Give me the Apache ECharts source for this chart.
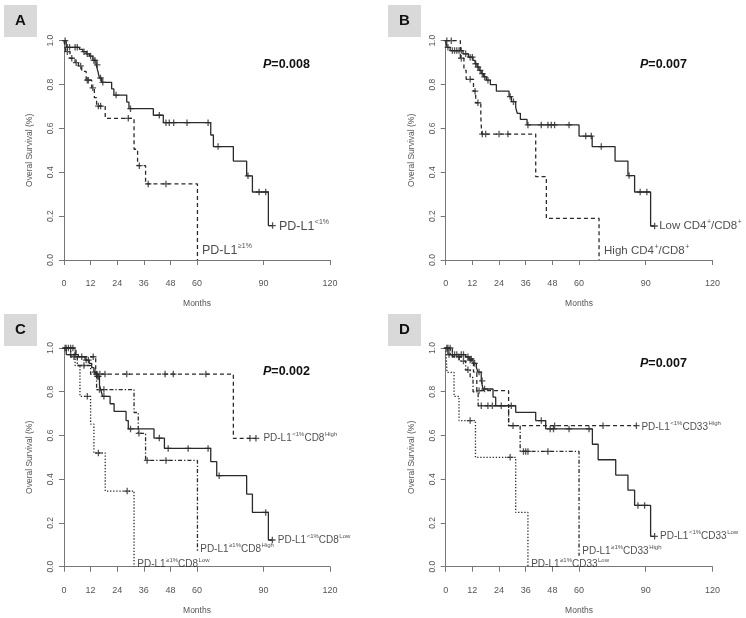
<!DOCTYPE html>
<html><head><meta charset="utf-8">
<script src="https://cdn.jsdelivr.net/npm/echarts@6/dist/echarts.min.js"></script>
<style>html,body{margin:0;padding:0;background:#fff}#c{width:746px;height:618px}</style>
</head><body><div id="c"></div>
<script>
// ---------- tick labels ----------
const xTicks = [0, 12, 24, 36, 48, 60, 90, 120];
const panelLetters = ['A', 'B', 'C', 'D'];
const pValues = ['0.008', '0.007', '0.002', '0.007'];

// ---------- Panel A ----------
const A_low_t = [0,1,7,8.5,10,11.5,13,14.5,15.3,16,17,21.5,22.5,28.3,29.3,40.3,44.8,66.2,67.4,76.4,82.4,85,92.2,94.1];
const A_low_s = [1,0.97,0.96,0.95,0.94,0.93,0.91,0.89,0.86,0.83,0.81,0.78,0.752,0.72,0.69,0.66,0.626,0.57,0.517,0.451,0.384,0.31,0.157,0.157];
const A_low_c = [0.5,1.5,2.5,5,6,9,10.5,12,13.5,14,15,16.5,17.5,23.5,30,43,46,47.5,49.5,55.5,65,69.5,83,88,91,94.1];
const A_high_t = [0,0.8,2.7,5,6.5,8,10,12.5,13.7,14.7,18.6,31.6,33.2,36.8,60.2];
const A_high_s = [1,0.95,0.92,0.90,0.885,0.86,0.82,0.785,0.74,0.702,0.646,0.505,0.43,0.347,0];
const A_high_c = [1.5,3.5,5.5,7.5,10.5,11,13,15.5,16.5,29,34,38,46];

// ---------- Panel B ----------
const B_low_t = [0,0.6,2,7.8,10.2,12.3,13.2,14.1,15,16,17.1,18.3,20.1,22.8,28.5,29.6,31.5,32.2,33.6,36.6,60,65.9,76.2,82,85,92.2,94];
const B_low_s = [1,0.97,0.955,0.94,0.925,0.91,0.895,0.88,0.865,0.85,0.835,0.82,0.80,0.77,0.745,0.722,0.695,0.669,0.641,0.616,0.565,0.517,0.451,0.385,0.31,0.155,0.155];
const B_low_c = [0.5,1,3,4,5,6,7,9,11,12,13.5,14.5,15.5,16.5,17.5,19,29,30.5,37,43,46,47.5,49,55.5,63,65.5,70,82.5,87.5,90.5,94];
const B_high_t = [0,6.6,8.2,9.2,12.5,13.5,15.8,16.2,40.5,45.3,69];
const B_high_s = [1,0.92,0.865,0.824,0.77,0.717,0.653,0.574,0.38,0.19,0];
const B_high_c = [2.5,7,11,13.2,14.5,16.5,18,24,28];

// ---------- Panel C ----------
const C_negLow_t = [0,1,6.5,9.5,11.4,12.5,13.5,14.7,16,16.5,17.4,20.8,22.6,28,29,40.6,45.3,66.2,68.9,82.4,85,92.2,94];
const C_negLow_s = [1,0.97,0.96,0.945,0.93,0.91,0.89,0.87,0.83,0.8125,0.779,0.745,0.71,0.668,0.63,0.588,0.541,0.48,0.416,0.332,0.248,0.122,0.122];
const C_negLow_c = [0.5,3,5,8,10,11,14,15,15.5,18,30,43,47,56,65,70,91,94];
const C_negHigh_t = [0,5.4,14.3,76.4,86.6];
const C_negHigh_s = [1,0.96,0.881,0.587,0.587];
const C_negHigh_c = [2,4,13.2,14.7,16.2,18.5,28.3,45.6,49.3,64,83.9,86.6];
const C_posHigh_t = [0,3,6,12,14.7,31.6,33.5,36.8,60.2];
const C_posHigh_s = [1,0.96,0.92,0.88,0.81,0.705,0.61,0.486,0.07];
const C_posHigh_c = [1,4.5,9,16,18,33.8,37.5,46];
const C_posLow_t = [0,5,7.2,12,13.5,18.6,31.6];
const C_posLow_s = [1,0.92,0.779,0.652,0.52,0.346,0];
const C_posLow_c = [3,10.5,15.5,28.5];

// ---------- Panel D ----------
const D_negLow_t = [0,1,9,10.5,12.3,13.8,14.6,16,16.8,21.3,22.5,31.5,40.5,45,66,68.6,76.5,82,85,92.2,94];
const D_negLow_s = [1,0.97,0.96,0.95,0.93,0.91,0.89,0.85,0.8125,0.775,0.736,0.706,0.668,0.63,0.56,0.489,0.419,0.35,0.28,0.139,0.139];
const D_negLow_c = [0.5,1.5,3,5,7,8,10,11.5,13,15,16.4,17.5,25,29.5,43,47,48.5,55.5,64.5,86.5,89.5,94];
const D_negHigh_t = [0,3,10,12.5,14,28.3,85.8];
const D_negHigh_s = [1,0.96,0.945,0.89,0.805,0.645,0.645];
const D_negHigh_c = [2,6,11,15,30.3,49,70.8,85.8];
const D_posHigh_t = [0,2,6,9,11,12.3,14.6,28.3,33.5,60];
const D_posHigh_s = [1,0.97,0.94,0.90,0.865,0.80,0.736,0.645,0.527,0.05];
const D_posHigh_c = [1,4,8,10,16,19,21,35,36,37,46];
const D_posLow_t = [0,0.6,3.75,6,13.4,31.5,37];
const D_posLow_s = [1,0.889,0.779,0.668,0.5,0.248,0];
const D_posLow_c = [11,29];

// ---------- curve labels (text parts: normal / superscript alternating) ----------
const A_labels = [['PD-L1','<1%'], ['PD-L1','≥1%']];
const A_labelAt = [[96.5,0.157],[61.8,0.046]];
const B_labels = [['Low CD4','+','/CD8','+'], ['High CD4','+','/CD8','+']];
const B_labelAt = [[95.6,0.157],[70.8,0.046]];
const C_labels = [['PD-L1','<1%','CD8','High'], ['PD-L1','<1%','CD8','Low'], ['PD-L1','≥1%','CD8','High'], ['PD-L1','≥1%','CD8','Low']];
const C_labelAt = [[89.5,0.593],[96,0.127],[61,0.085],[32.6,0.017]];
const D_labels = [['PD-L1','<1%','CD33','High'], ['PD-L1','<1%','CD33','Low'], ['PD-L1','≥1%','CD33','High'], ['PD-L1','≥1%','CD33','Low']];
const D_labelAt = [[87.6,0.643],[96,0.145],[61,0.076],[38,0.017]];

// ---------- build ----------
const FONT = '"Liberation Sans", Arial, Helvetica, sans-serif';
const LINE = '#2a2a2a';
const STY = { solid: 'solid', dashed: [4, 3], dotted: [1.3, 1.8], dotdash: [1.3, 2, 4, 2] };
const CROSS = 'path://M4,0H6V10H4ZM0,4H10V6H0Z';

function zip(t, s) { return t.map((v, i) => [v, s[i]]); }
function survAt(t, s, x) { let v = s[0]; for (let i = 0; i < t.length; i++) { if (t[i] <= x) v = s[i]; } return v; }

const grids = [
  { left: 64, top: 40.7, width: 266, height: 219.3 },
  { left: 445.7, top: 40.7, width: 266.7, height: 219.3 },
  { left: 64, top: 348, width: 266, height: 218.7 },
  { left: 445.7, top: 348, width: 266.7, height: 218.7 }
];

const panels = [
  { curves: [[A_low_t, A_low_s, A_low_c, 'solid'], [A_high_t, A_high_s, A_high_c, 'dashed']], labels: A_labels, at: A_labelAt, fs: 12.5, sfs: 7 },
  { curves: [[B_low_t, B_low_s, B_low_c, 'solid'], [B_high_t, B_high_s, B_high_c, 'dashed']], labels: B_labels, at: B_labelAt, fs: 11.5, sfs: 7 },
  { curves: [[C_negLow_t, C_negLow_s, C_negLow_c, 'solid'], [C_negHigh_t, C_negHigh_s, C_negHigh_c, 'dashed'], [C_posHigh_t, C_posHigh_s, C_posHigh_c, 'dotdash'], [C_posLow_t, C_posLow_s, C_posLow_c, 'dotted']], labels: C_labels, at: C_labelAt, fs: 10, sfs: 6 },
  { curves: [[D_negLow_t, D_negLow_s, D_negLow_c, 'solid'], [D_negHigh_t, D_negHigh_s, D_negHigh_c, 'dashed'], [D_posHigh_t, D_posHigh_s, D_posHigh_c, 'dotdash'], [D_posLow_t, D_posLow_s, D_posLow_c, 'dotted']], labels: D_labels, at: D_labelAt, fs: 10, sfs: 6 }
];

const xAxes = [], yAxes = [], series = [], graphic = [];
grids.forEach((g, i) => {
  g.outerBoundsMode = 'none';
  g.containLabel = false;
  xAxes.push({
    type: 'value', gridIndex: i, min: 0, max: 120, offset: 8,
    name: 'Months', nameLocation: 'middle', nameGap: 31,
    nameTextStyle: { fontFamily: FONT, fontSize: 8.5, color: '#555' },
    axisLine: { show: true, lineStyle: { color: '#777', width: 1 } },
    axisTick: { show: true, length: 5, customValues: xTicks, lineStyle: { color: '#777' } },
    axisLabel: { customValues: xTicks, margin: 11, fontFamily: FONT, fontSize: 9, color: '#555' },
    splitLine: { show: false }
  });
  yAxes.push({
    type: 'value', gridIndex: i, min: 0, max: 1, interval: 0.2,
    name: 'Overal Survival (%)', nameLocation: 'middle', nameGap: 30, nameRotate: 90,
    nameTextStyle: { fontFamily: FONT, fontSize: 8.5, color: '#555' },
    axisLine: { show: true, lineStyle: { color: '#777', width: 1 } },
    axisTick: { show: true, length: 5, lineStyle: { color: '#777' } },
    axisLabel: { rotate: 90, margin: 9, fontFamily: FONT, fontSize: 8.5, color: '#555', formatter: v => v.toFixed(1) },
    splitLine: { show: false }
  });
  const p = panels[i];
  p.curves.forEach(([t, s, c, sty]) => {
    series.push({
      type: 'line', xAxisIndex: i, yAxisIndex: i, step: 'end', symbol: 'none', silent: true,
      data: zip(t, s), lineStyle: { color: LINE, width: 1.3, type: STY[sty] }, z: 2
    });
    series.push({
      type: 'scatter', xAxisIndex: i, yAxisIndex: i, symbol: CROSS, symbolSize: 6.5, silent: true,
      data: c.map(x => [x, survAt(t, s, x)]), itemStyle: { color: LINE }, z: 3
    });
  });
  series.push({
    type: 'scatter', xAxisIndex: i, yAxisIndex: i, symbolSize: 0, silent: true, z: 4,
    data: p.at.map((a, k) => ({ value: a, parts: p.labels[k] })),
    label: {
      show: true, position: 'right', distance: 1, color: '#222', fontFamily: FONT,
      formatter: prm => prm.data.parts.map((txt, k) => '{' + (k % 2 ? 's' : 'n') + '|' + txt + '}').join(''),
      rich: {
        n: { fontSize: p.fs, fontFamily: FONT, color: '#222', lineHeight: p.fs + 2, verticalAlign: 'bottom' },
        s: { fontSize: p.sfs, fontFamily: FONT, color: '#222', lineHeight: p.fs + 2, verticalAlign: 'top', padding: [0, 0, 0, 0.5] }
      }
    }
  });
});

// panel letters and P values
const letterBoxes = [[4, 5], [388, 5], [4, 314], [388, 314]];
const pPos = [[263, 65], [640, 65], [263, 372], [640, 364]];
letterBoxes.forEach(([x, y], i) => {
  graphic.push({ type: 'rect', left: x, top: y, shape: { width: 33, height: 32 }, style: { fill: '#d9d9d9' }, silent: true });
  graphic.push({ type: 'text', x: x + 16.5, y: y + 16, style: { text: panelLetters[i], font: 'bold 15px ' + FONT, fill: '#111', align: 'center', verticalAlign: 'middle' }, silent: true });
  graphic.push({
    type: 'text', x: pPos[i][0], y: pPos[i][1],
    style: {
      text: '{i|P}{b|=' + pValues[i] + '}', verticalAlign: 'middle', align: 'left',
      rich: {
        i: { font: 'italic bold 12.5px ' + FONT, fill: '#111' },
        b: { font: 'bold 12.5px ' + FONT, fill: '#111' }
      }
    }, silent: true
  });
});

const chart = echarts.init(document.getElementById('c'), null, { renderer: 'canvas' });
chart.setOption({
  animation: false,
  backgroundColor: '#fff',
  grid: grids, xAxis: xAxes, yAxis: yAxes, series: series, graphic: graphic
});
</script></body></html>
